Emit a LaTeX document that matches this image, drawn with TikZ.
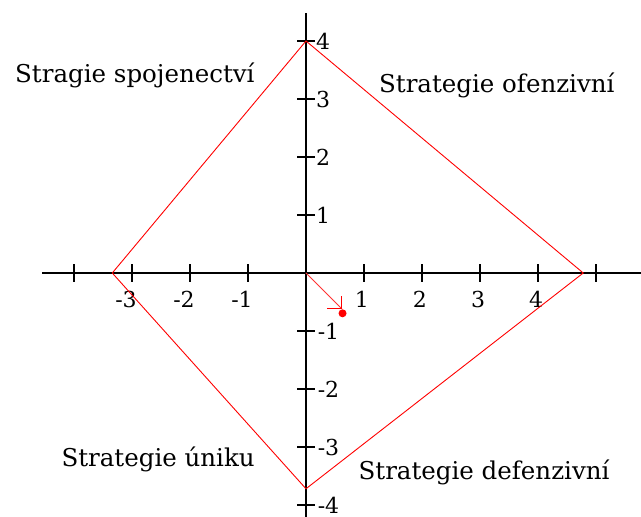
\documentclass[tikz,border=0pt]{standalone}
\usepackage{fontspec}
\setmainfont{DejaVu Serif}
\newfontfamily\ticksfont{DejaVu Serif}
\begin{document}
\begin{tikzpicture}[x=58pt,y=58pt,
  axis/.style={line width=1.2pt,black},
  tickmark/.style={line width=1.1pt,black},
  ticklbl/.style={font=\ticksfont\fontsize{22}{22}\selectfont,inner sep=0pt},
  strat/.style={font=\fontsize{24.5}{24.5}\selectfont,inner sep=0pt,text=black},
  diam/.style={red,line width=0.9pt},
]
\useasboundingbox (-306pt,-244pt) rectangle (335pt,273pt);
\fill[white] (-306pt,-244pt) rectangle (335pt,273pt);
% axes
\coordinate (xl) at (-4.55,0);
\coordinate (xr) at (5.78,0);
\coordinate (yt) at (0,4.48);
\coordinate (yb) at (0,-4.21);
\draw[axis] (xl) -- (xr);
\draw[axis] (yt) -- (yb);
\foreach \i in {-4,-3,-2,-1,1,2,3,4,5} \draw[tickmark] (\i,-0.15) -- (\i,0.15);
\foreach \i in {-4,-3,-2,-1,1,2,3,4} \draw[tickmark] (-0.15,\i) -- (0.15,\i);
\foreach \i in {1,2,3,4} \node[ticklbl,xshift=-2pt] (xlab\i) at (\i,-0.45) {\i};
\foreach \i in {1,2,3} \node[ticklbl,xshift=-6pt] (xlabm\i) at (-\i,-0.45) {-\i};
\foreach \i in {1,2,3,4} \node[ticklbl,anchor=west] (ylab\i) at (0.17,\i) {\i};
\foreach \i in {1,2,3,4} \node[ticklbl,anchor=west] (ylabm\i) at (0.2,-\i) {-\i};
% diamond
\coordinate (T) at (0,4);
\coordinate (R) at (4.78,0);
\coordinate (B) at (0,-3.72);
\coordinate (L) at (-3.34,0);
\draw[diam] (T) -- (R) -- (B) -- (L) -- cycle;
% vector
\coordinate (O) at (0,0);
\coordinate (A) at (0.62,-0.62);
\draw[red!80!white,line width=0.9pt] (O) -- (A);
\draw[red,line width=1pt] (A) -- ++(-0.25,0);
\draw[red,line width=1pt] (A) -- ++(0,0.22);
\node[circle,fill=red,inner sep=0pt,minimum size=8pt] (dot) at (0.63,-0.695) {};
% labels
\node[strat] (s1) at (-2.95,3.41) {Stragie spojenectví};
\node[strat] (s2) at (3.29,3.24) {Strategie ofenzivní};
\node[strat] (s3) at (-2.55,-3.22) {Strategie úniku};
\node[strat] (s4) at (3.07,-3.43) {Strategie defenzivní};
\end{tikzpicture}
\end{document}
